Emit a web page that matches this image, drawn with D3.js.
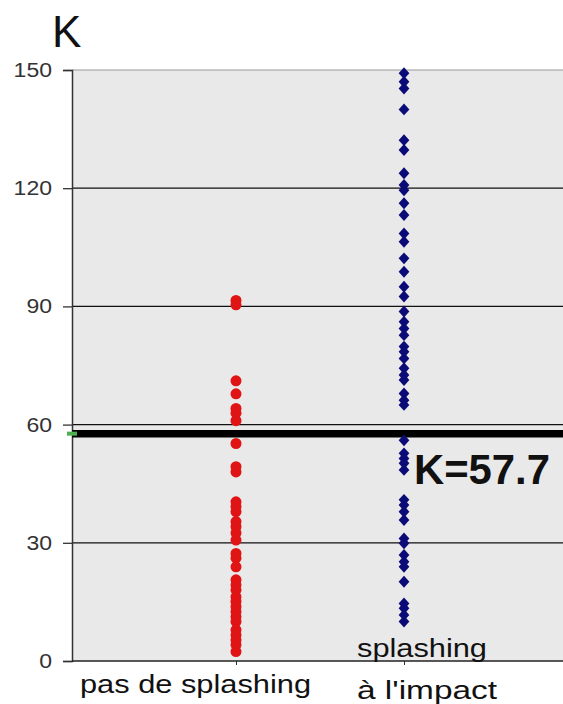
<!DOCTYPE html>
<html>
<head>
<meta charset="utf-8">
<script src="https://cdn.jsdelivr.net/npm/d3@7"></script>
<style>
  body { margin: 0; background: #fff; }
  svg { display: block; font-family: "Liberation Sans", Arial, sans-serif; }
</style>
</head>
<body>
<div id="chart"></div>
<script>
// K values
const categories = ["pas de splashing", "splashing"];
const noSplash = [91.5, 90.4, 71.1, 67.8, 64.1, 62.9, 61.0, 55.2, 49.3, 48.0,
  40.4, 39.2, 37.9, 35.4, 34.1, 32.5, 30.7, 27.3, 26.1, 23.9, 20.6, 19.3, 18.0,
  16.3, 15.1, 13.8, 12.5, 11.2, 10.0, 7.9, 6.6, 5.3, 4.1, 2.4];
const splash = [149.2, 147.0, 145.3, 140.0, 132.2, 129.7, 123.8, 120.8, 119.5,
  116.2, 113.2, 108.5, 106.4, 102.2, 98.8, 95.0, 92.5, 88.7, 86.1, 84.4, 82.7,
  79.8, 78.5, 76.8, 74.3, 72.6, 71.3, 67.9, 66.2, 65.0, 56.0, 52.7, 51.4, 50.2,
  48.5, 40.9, 39.6, 37.9, 35.8, 31.1, 29.9, 26.9, 25.2, 23.9, 20.1, 14.6, 13.4,
  11.7, 10.0];
const yTicks = [0, 30, 60, 90, 120, 150];
const threshold = 57.7;

const width = 563, height = 704;
const svg = d3.select("#chart").append("svg")
  .attr("width", width)
  .attr("height", height);

const plotLeft = 72, plotTop = 70, plotBottom = 661;

const x = d3.scaleLinear().domain([0, 3]).range([68, 572]);
const y = d3.scaleLinear().domain([0, 150]).range([plotBottom, plotTop]);

// plot background
svg.append("rect")
  .attr("x", plotLeft).attr("y", plotTop)
  .attr("width", width - plotLeft).attr("height", plotBottom - plotTop)
  .attr("fill", "#e9e9e9");

// gridlines
svg.append("g")
  .selectAll("line")
  .data(yTicks.filter(t => t > 0 && t < 150))
  .enter().append("line")
  .attr("x1", plotLeft).attr("x2", width)
  .attr("y1", d => y(d)).attr("y2", d => y(d))
  .attr("stroke", "#111").attr("stroke-width", 1.2);

svg.append("line")
  .attr("x1", plotLeft).attr("x2", width)
  .attr("y1", y(150)).attr("y2", y(150))
  .attr("stroke", "#999").attr("stroke-width", 1);

// y axis
const yAxis = svg.append("g")
  .attr("transform", `translate(${plotLeft},0)`)
  .call(d3.axisLeft(y).tickValues(yTicks).tickSize(9).tickPadding(11));
yAxis.select(".domain").attr("stroke", "#333").attr("stroke-width", 1.5);
yAxis.selectAll(".tick line").attr("stroke", "#333").attr("stroke-width", 1.3);
yAxis.selectAll(".tick text")
  .attr("fill", "#333")
  .attr("textLength", d => String(d).length * 12.8)
  .attr("lengthAdjust", "spacingAndGlyphs")
  .style("font-size", "20px")
  .style("font-family", "Liberation Sans, Arial, sans-serif");

// x axis
const xAxis = svg.append("g")
  .attr("transform", `translate(0,${plotBottom})`)
  .call(d3.axisBottom(x).tickValues([1, 2]).tickSize(4).tickFormat(""));
xAxis.select(".domain").remove();
xAxis.selectAll(".tick line").attr("stroke", "#333");
svg.append("line")
  .attr("x1", plotLeft).attr("x2", width)
  .attr("y1", plotBottom).attr("y2", plotBottom)
  .attr("stroke", "#222").attr("stroke-width", 1.5);

// threshold line
svg.append("line")
  .attr("x1", plotLeft).attr("x2", width)
  .attr("y1", y(threshold)).attr("y2", y(threshold))
  .attr("stroke", "#000").attr("stroke-width", 7.5);
svg.append("rect")
  .attr("x", 67).attr("y", y(threshold) - 2)
  .attr("width", 10).attr("height", 4)
  .attr("fill", "#4caf50");

// red dots
svg.append("g")
  .selectAll("circle")
  .data(noSplash)
  .enter().append("circle")
  .attr("cx", x(1))
  .attr("cy", d => y(d))
  .attr("r", 5.5)
  .attr("fill", "#e01414");

// blue diamonds
const diamond = d3.symbol().type(d3.symbolDiamond).size(64);
svg.append("g")
  .selectAll("path")
  .data(splash)
  .enter().append("path")
  .attr("d", diamond)
  .attr("transform", d => `translate(${x(2)},${y(d)}) scale(1.25,0.8)`)
  .attr("fill", "#0b0b78");

// labels
svg.append("text")
  .attr("x", 52).attr("y", 47)
  .style("font-size", "44px")
  .attr("fill", "#111")
  .text("K");

svg.append("text")
  .attr("x", 414).attr("y", 484)
  .style("font-size", "42px")
  .style("font-weight", "bold")
  .attr("fill", "#111")
  .attr("textLength", 136)
  .attr("lengthAdjust", "spacingAndGlyphs")
  .text("K=" + threshold);

svg.append("text")
  .attr("x", 80).attr("y", 693)
  .style("font-size", "25px")
  .attr("fill", "#111")
  .attr("textLength", 231)
  .attr("lengthAdjust", "spacingAndGlyphs")
  .text(categories[0]);

svg.append("text")
  .attr("x", 357).attr("y", 657)
  .style("font-size", "25px")
  .attr("fill", "#111")
  .attr("textLength", 130)
  .attr("lengthAdjust", "spacingAndGlyphs")
  .text(categories[1]);
svg.append("text")
  .attr("x", 357).attr("y", 699)
  .style("font-size", "25px")
  .attr("fill", "#111")
  .attr("textLength", 140)
  .attr("lengthAdjust", "spacingAndGlyphs")
  .text("à l'impact");
</script>
</body>
</html>
